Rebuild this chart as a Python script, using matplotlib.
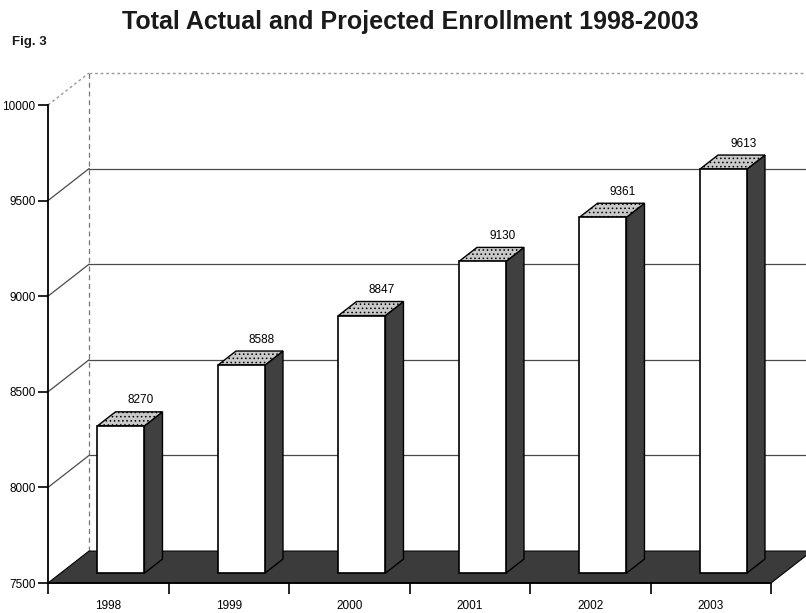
import matplotlib.pyplot as plt
from matplotlib.patches import Polygon, Rectangle

plt.rcParams["font.family"] = ["Liberation Sans", "DejaVu Sans"]
plt.rcParams["hatch.linewidth"] = 0.6

years = ["1998", "1999", "2000", "2001", "2002", "2003"]
enrollment = [8270, 8588, 8847, 9130, 9361, 9613]
y_ticks = [7500, 8000, 8500, 9000, 9500, 10000]

# oblique depth of the 3D box, in data units
DX, DY = 0.34, 167.0
BAR_D0, BAR_D1 = 0.31, 0.75
BAR_W = 0.39
Y0 = 7500
FLOOR = "#3b3b3b"
SIDE = "#404040"
TOP = "#c9c9c9"
GRID = "#4a4a4a"


def proj(x, y, d):
    return (x + d * DX, y + d * DY)


fig = plt.figure(figsize=(8.06, 6.13), dpi=100)
ax = fig.add_axes([48 / 806, 30 / 613, 723 / 806, 478 / 613])
ax.set_xlim(-0.5, 5.5)
ax.set_ylim(Y0, 10000)
ax.patch.set_visible(False)
for s in ("top", "right"):
    ax.spines[s].set_visible(False)
ax.spines["left"].set_linewidth(1.3)
ax.spines["bottom"].set_linewidth(1.3)

ax.set_yticks(y_ticks)
ax.set_yticklabels([str(v) for v in y_ticks], fontsize=8.5)
ax.tick_params(axis="y", length=7, width=1.2, pad=2)
ax.set_xticks([i - 0.5 for i in range(len(years) + 1)])
ax.set_xticklabels([])
ax.tick_params(axis="x", which="major", length=8, width=1.2)
ax.set_xticks(range(len(years)), minor=True)
ax.set_xticklabels(years, minor=True, fontsize=8.5)
ax.tick_params(axis="x", which="minor", length=0, pad=12)

left = -0.5
right = len(years) - 0.5

# back wall and left wall grid
for v in y_ticks[1:]:
    top = v == 10000
    style = dict(color="#9a9a9a" if top else GRID, lw=1.0 if top else 0.9,
                 ls=(0, (2, 2)) if top else "-", clip_on=False, zorder=1)
    bx0, by = proj(left, v, 1)
    bx1, _ = proj(right + 0.2, v, 1)
    ax.plot([bx0, bx1], [by, by], **style)
    ax.plot([left, bx0], [v, by], **style)
bx, by0 = proj(left, Y0, 1)
_, by1 = proj(left, 10000, 1)
ax.plot([bx, bx], [by0, by1], color="#777777", lw=0.9, ls=(0, (4, 3)),
        clip_on=False, zorder=1)

# floor
floor = Polygon([(left, Y0), (right, Y0), proj(right, Y0, 1), proj(right + 0.3, Y0, 1),
                 proj(left, Y0, 1)], closed=True, facecolor=FLOOR, edgecolor="black",
                lw=0.8, clip_on=False, zorder=2)
ax.add_patch(floor)

# bars
for i, (yr, val) in enumerate(zip(years, enrollment)):
    xl, xr = i - BAR_W / 2, i + BAR_W / 2
    fl = proj(xl, Y0, BAR_D0)
    fr_b = proj(xr, Y0, BAR_D0)
    fr_t = proj(xr, val, BAR_D0)
    fl_t = proj(xl, val, BAR_D0)
    br_b = proj(xr, Y0, BAR_D1)
    br_t = proj(xr, val, BAR_D1)
    bl_t = proj(xl, val, BAR_D1)
    side = Polygon([fr_b, br_b, br_t, fr_t], closed=True, facecolor=SIDE,
                   edgecolor="black", lw=1.0, clip_on=False, zorder=3)
    topf = Polygon([fl_t, fr_t, br_t, bl_t], closed=True, facecolor=TOP,
                   edgecolor="black", lw=1.0, hatch="....", clip_on=False, zorder=3)
    front = Rectangle(fl, BAR_W, val - Y0, facecolor="white", edgecolor="black",
                      lw=1.2, clip_on=False, zorder=4)
    ax.add_patch(side)
    ax.add_patch(topf)
    ax.add_patch(front)
    lx, ly = proj(i, val, 0.8)
    ax.text(lx, ly + 20, f"{val}", ha="center", va="bottom", fontsize=8.5, zorder=5)

fig.text(410 / 806, 1 - 22 / 613, "Total Actual and Projected Enrollment 1998-2003",
         ha="center", va="center", fontsize=18, fontweight="bold", color="#1a1a1a")
fig.text(12 / 806, 1 - 42 / 613, "Fig. 3", ha="left", va="center", fontsize=9.5,
         fontweight="bold", color="#1a1a1a")

fig.savefig("out.png", dpi=100)
